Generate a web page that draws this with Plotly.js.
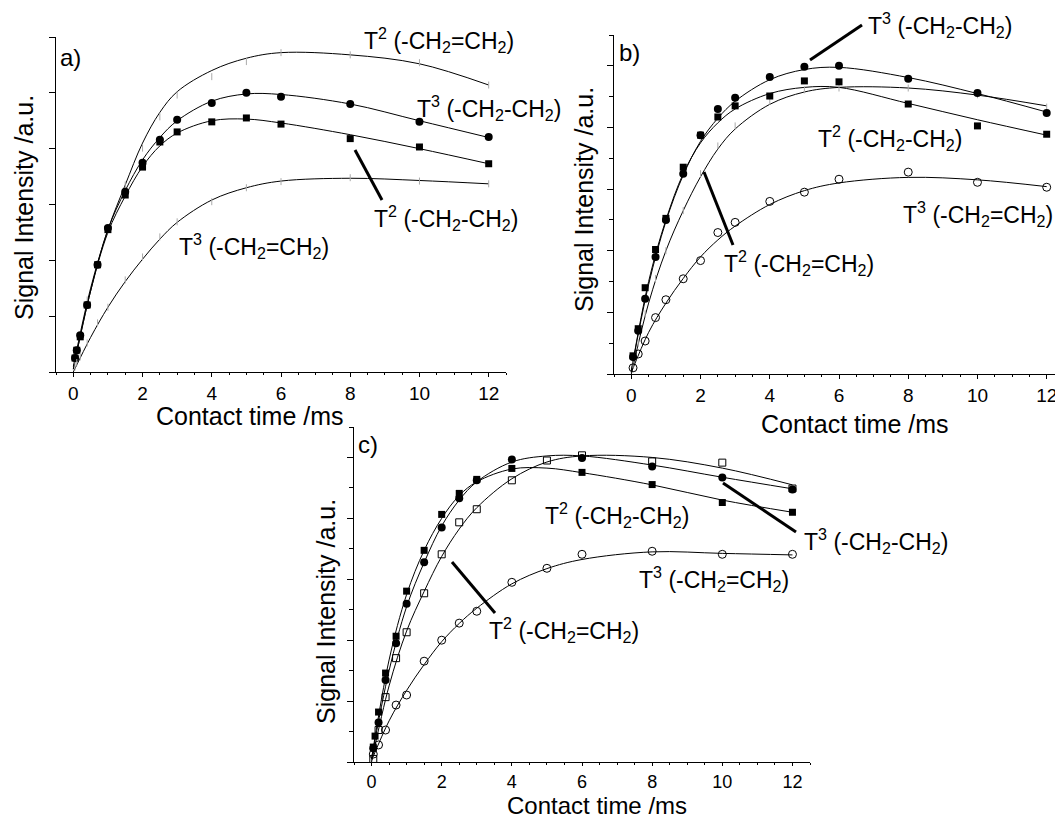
<!DOCTYPE html>
<html>
<head>
<meta charset="utf-8">
<script src="https://cdn.plot.ly/plotly-3.0.1.min.js"></script>
<style>
html,body{margin:0;padding:0;overflow:hidden;background:#fff;}
#chart{width:1080px;height:819px;}
</style>
</head>
<body>
<div id="chart"></div>
<script>
// ---------- MEASURED POINTS (contact time in ms, signal intensity in arbitrary units) ----------
// Panel a
const tA = [0.05, 0.1, 0.2, 0.4, 0.7, 1, 1.5, 2, 2.5, 3, 4, 5, 6, 8, 10, 12];
const a_T2_ethene = [0.21, 0.34, 0.66, 1.29, 1.92, 2.54, 3.35, 4.01, 4.57, 4.96, 5.29, 5.56, 5.72, 5.68, 5.54, 5.14];
const a_T3_ethane = [0.25, 0.39, 0.66, 1.2, 1.92, 2.58, 3.23, 3.75, 4.16, 4.52, 4.82, 5.0, 4.93, 4.80, 4.48, 4.21];
const a_T2_ethane = [0.25, 0.39, 0.63, 1.2, 1.92, 2.55, 3.17, 3.67, 4.12, 4.30, 4.48, 4.55, 4.44, 4.18, 4.03, 3.73];
const a_T3_ethene = [0.09, 0.17, 0.27, 0.52, 0.88, 1.16, 1.65, 2.06, 2.42, 2.69, 3.05, 3.30, 3.41, 3.48, 3.42, 3.37];
// Panel b
const tB = [0.05, 0.2, 0.4, 0.7, 1, 1.5, 2, 2.5, 3, 4, 5, 6, 8, 10, 12];
const b_T3_ethane = [0.55, 1.4, 2.44, 3.8, 5.0, 6.5, 7.75, 8.6, 8.96, 9.64, 9.97, 10.0, 9.58, 9.12, 8.47];
const b_T2_ethane = [0.59, 1.47, 2.8, 4.04, 5.05, 6.71, 7.75, 8.34, 8.7, 9.02, 9.51, 9.48, 8.76, 8.05, 7.78];
const b_T2_ethene = [0.3, 1.0, 1.95, 3.1, 4.0, 5.3, 6.5, 7.4, 8.05, 8.85, 9.22, 9.28, 9.28, 9.06, 8.66];
const b_T3_ethene = [0.2, 0.65, 1.07, 1.83, 2.41, 3.09, 3.68, 4.59, 4.92, 5.6, 5.9, 6.32, 6.55, 6.22, 6.06];
// Panel c
const tC_T2_ethane = [0.05, 0.1, 0.2, 0.4, 0.7, 1, 1.5, 2, 2.5, 3, 4, 6, 8, 10, 12];
const c_T2_ethane = [0.49, 0.85, 1.64, 2.92, 4.13, 5.61, 6.95, 8.13, 8.82, 9.28, 9.64, 9.51, 9.11, 8.52, 8.2];
const tC_T3_ethane = [0.05, 0.2, 0.4, 0.7, 1, 1.5, 2, 2.5, 3, 4, 6, 8, 10, 12];
const c_T3_ethane = [0.45, 1.3, 2.69, 3.9, 5.2, 6.56, 7.7, 8.66, 9.25, 9.93, 9.98, 9.7, 9.34, 8.95];
const tC_ethene = [0.05, 0.2, 0.4, 0.7, 1, 1.5, 2, 2.5, 3, 4, 5, 6, 8, 10, 12];
const c_T2_ethene = [0.1, 1.05, 2.13, 3.41, 4.26, 5.54, 6.82, 7.87, 8.3, 9.25, 9.9, 10.07, 9.87, 9.83, 8.98];
const c_T3_ethene = [0.26, 0.56, 1.05, 1.87, 2.2, 3.31, 4.0, 4.56, 4.95, 5.9, 6.36, 6.82, 6.92, 6.82, 6.82];

// ---------- FITTED CURVES (at these contact times) ----------
const tFit = [0, 0.5, 1, 1.5, 2, 2.5, 3, 4, 5, 6, 8, 10, 12];
const fa_T2_ethene = [0.1, 1.5, 2.55, 3.35, 4.1, 4.65, 5.02, 5.4, 5.62, 5.72, 5.68, 5.52, 5.14];
const fa_T3_ethane = [0.05, 1.45, 2.55, 3.25, 3.8, 4.2, 4.5, 4.85, 4.98, 4.97, 4.8, 4.5, 4.2];
const fa_T2_ethane = [0.05, 1.45, 2.5, 3.15, 3.68, 4.05, 4.28, 4.5, 4.53, 4.46, 4.25, 4.0, 3.73];
const fa_T3_ethene = [0.0, 0.62, 1.16, 1.62, 2.02, 2.38, 2.68, 3.08, 3.3, 3.42, 3.47, 3.43, 3.37];
const fb_T3_ethane = [0.1, 2.9, 4.95, 6.45, 7.55, 8.3, 8.85, 9.55, 9.88, 9.95, 9.62, 9.1, 8.5];
const fb_T2_ethane = [0.1, 3.0, 5.0, 6.5, 7.5, 8.15, 8.6, 9.1, 9.3, 9.3, 8.78, 8.25, 7.75];
const fb_T2_ethene = [0.0, 2.3, 4.0, 5.3, 6.4, 7.3, 7.95, 8.75, 9.15, 9.3, 9.28, 9.05, 8.7];
const fb_T3_ethene = [0.05, 1.35, 2.3, 3.1, 3.8, 4.35, 4.8, 5.5, 5.95, 6.2, 6.38, 6.3, 6.08];
const fc_T2_ethane = [0.1, 3.35, 5.5, 6.95, 8.0, 8.75, 9.2, 9.62, 9.65, 9.5, 9.1, 8.6, 8.2];
const fc_T3_ethane = [0.1, 3.0, 5.1, 6.55, 7.75, 8.6, 9.2, 9.85, 10.05, 10.05, 9.75, 9.35, 8.97];
const fc_T2_ethene = [0.0, 2.5, 4.3, 5.6, 6.75, 7.65, 8.35, 9.3, 9.85, 10.05, 10.0, 9.65, 9.1];
const fc_T3_ethene = [0.05, 1.35, 2.35, 3.2, 3.95, 4.55, 5.05, 5.85, 6.35, 6.65, 6.9, 6.85, 6.8];

const xTickVals = [0, 2, 4, 6, 8, 10, 12];
const xTickText = ['0', '2', '4', '6', '8', '10', '12'];
const xTitle = 'Contact time /ms';
const yTitle = 'Signal Intensity /a.u.';
const panelLabels = ['a)', 'b)', 'c)'];
const lbl = {
  T2ene: 'T<sup>2</sup> (-CH<sub>2</sub>=CH<sub>2</sub>)',
  T3ene: 'T<sup>3</sup> (-CH<sub>2</sub>=CH<sub>2</sub>)',
  T2ane: 'T<sup>2</sup> (-CH<sub>2</sub>-CH<sub>2</sub>)',
  T3ane: 'T<sup>3</sup> (-CH<sub>2</sub>-CH<sub>2</sub>)'
};

// ---------- LAYOUT HELPERS ----------
const W = 1080, H = 819;
const FONT = 'Liberation Sans, Arial, Helvetica, sans-serif';
const px = v => v / W;
const py = v => 1 - v / H;

const mk = {
  fc: {symbol: 'circle', size: 8, color: '#000'},
  fs: {symbol: 'square', size: 7, color: '#000'},
  oc: {symbol: 'circle-open', size: 8, color: '#000', line: {width: 1, color: '#000'}},
  os: {symbol: 'square-open', size: 7, color: '#000', line: {width: 1, color: '#000'}},
  tk: {symbol: 'line-ns-open', size: 5, color: '#aaa', line: {width: 1, color: '#aaa'}}
};

function pts(x, y, marker, xa, ya, name) {
  return {x: x, y: y, xaxis: xa, yaxis: ya, name: name, type: 'scatter', mode: 'markers',
          marker: marker, showlegend: false, cliponaxis: false, hoverinfo: 'x+y'};
}
function fit(x, y, xa, ya, name) {
  return {x: x, y: y, xaxis: xa, yaxis: ya, name: name + ' fit', type: 'scatter', mode: 'lines',
          line: {color: '#000', width: 1, shape: 'spline', smoothing: 1},
          showlegend: false, cliponaxis: false, hoverinfo: 'skip'};
}

const data = [
  fit(tFit, fa_T2_ethene, 'x', 'y', 'a T2 ethene'),
  fit(tFit, fa_T3_ethane, 'x', 'y', 'a T3 ethane'),
  fit(tFit, fa_T2_ethane, 'x', 'y', 'a T2 ethane'),
  fit(tFit, fa_T3_ethene, 'x', 'y', 'a T3 ethene'),
  pts(tA, a_T2_ethene, mk.tk, 'x', 'y', 'T2 (-CH2=CH2)'),
  pts(tA, a_T3_ethane, mk.fc, 'x', 'y', 'T3 (-CH2-CH2)'),
  pts(tA, a_T2_ethane, mk.fs, 'x', 'y', 'T2 (-CH2-CH2)'),
  pts(tA, a_T3_ethene, mk.tk, 'x', 'y', 'T3 (-CH2=CH2)'),

  fit(tFit, fb_T2_ethene, 'x2', 'y2', 'b T2 ethene'),
  fit(tFit, fb_T3_ethene, 'x2', 'y2', 'b T3 ethene'),
  fit(tFit, fb_T2_ethane, 'x2', 'y2', 'b T2 ethane'),
  fit(tFit, fb_T3_ethane, 'x2', 'y2', 'b T3 ethane'),
  pts(tB, b_T2_ethene, mk.tk, 'x2', 'y2', 'T2 (-CH2=CH2)'),
  pts(tB, b_T3_ethene, mk.oc, 'x2', 'y2', 'T3 (-CH2=CH2)'),
  pts(tB, b_T2_ethane, mk.fs, 'x2', 'y2', 'T2 (-CH2-CH2)'),
  pts(tB, b_T3_ethane, mk.fc, 'x2', 'y2', 'T3 (-CH2-CH2)'),

  fit(tFit, fc_T3_ethene, 'x3', 'y3', 'c T3 ethene'),
  fit(tFit, fc_T2_ethene, 'x3', 'y3', 'c T2 ethene'),
  fit(tFit, fc_T2_ethane, 'x3', 'y3', 'c T2 ethane'),
  fit(tFit, fc_T3_ethane, 'x3', 'y3', 'c T3 ethane'),
  pts(tC_ethene, c_T3_ethene, mk.oc, 'x3', 'y3', 'T3 (-CH2=CH2)'),
  pts(tC_ethene, c_T2_ethene, mk.os, 'x3', 'y3', 'T2 (-CH2=CH2)'),
  pts(tC_T2_ethane, c_T2_ethane, mk.fs, 'x3', 'y3', 'T2 (-CH2-CH2)'),
  pts(tC_T3_ethane, c_T3_ethane, mk.fc, 'x3', 'y3', 'T3 (-CH2-CH2)')
];

function xax(d, anchor, tlen, tsize) {
  return {
    domain: [px(d[0]), px(d[1])], anchor: anchor, range: [-0.5, 12.5],
    tickmode: 'array', tickvals: xTickVals, ticktext: xTickText,
    ticks: 'outside', ticklen: tlen, tickwidth: 1, tickcolor: '#000',
    minor: {dtick: 0.5, tick0: 0, ticks: 'outside', ticklen: 2, tickwidth: 1, tickcolor: '#000'},
    showline: true, linecolor: '#000', linewidth: 1, showgrid: false, zeroline: false,
    tickfont: {family: FONT, size: tsize, color: '#000'}, fixedrange: true
  };
}
function yax(d, anchor, top, dt, minorDt) {
  const o = {
    domain: [py(d[1]), py(d[0])], anchor: anchor, range: [0, top],
    tick0: 0, dtick: dt, ticks: 'outside', ticklen: 6, tickwidth: 1, tickcolor: '#000',
    showticklabels: false, showline: true, linecolor: '#000', linewidth: 1,
    showgrid: false, zeroline: false, fixedrange: true
  };
  if (minorDt) o.minor = {dtick: minorDt, ticks: 'outside', ticklen: 4, tickwidth: 1, tickcolor: '#000'};
  return o;
}

function ann(text, x, y, size, extra) {
  return Object.assign({
    text: text, xref: 'paper', yref: 'paper', x: px(x), y: py(y),
    xanchor: 'left', yanchor: 'middle', showarrow: false,
    font: {family: FONT, size: size, color: '#000'}
  }, extra || {});
}
const LS = 23, TS = 25;
const annotations = [
  // panel labels
  ann(panelLabels[0], 58, 58, 24),
  ann(panelLabels[1], 617, 52, 24),
  ann(panelLabels[2], 356, 445, 24),
  // axis titles
  ann(xTitle, 250, 416, TS, {xanchor: 'center'}),
  ann(xTitle, 855, 424, TS, {xanchor: 'center'}),
  ann(xTitle, 597, 805, 24, {xanchor: 'center'}),
  ann(yTitle, 24, 208, TS, {xanchor: 'center', textangle: -90}),
  ann(yTitle, 584, 200, TS, {xanchor: 'center', textangle: -90}),
  ann(yTitle, 326, 612, TS, {xanchor: 'center', textangle: -90}),
  // series labels panel a
  ann(lbl.T2ene, 362, 40, LS),
  ann(lbl.T3ane, 415, 108, LS),
  ann(lbl.T2ane, 372, 218, LS),
  ann(lbl.T3ene, 177, 246, LS),
  // panel b
  ann(lbl.T3ane, 866, 25, LS),
  ann(lbl.T2ane, 816, 138, LS),
  ann(lbl.T3ene, 901, 214, LS),
  ann(lbl.T2ene, 722, 263, LS),
  // panel c
  ann(lbl.T2ane, 543, 515, LS),
  ann(lbl.T3ane, 802, 541, LS),
  ann(lbl.T3ene, 637, 579, LS),
  ann(lbl.T2ene, 487, 630, LS)
];

function seg(x0, y0, x1, y1) {
  return {type: 'line', xref: 'paper', yref: 'paper', x0: px(x0), y0: py(y0), x1: px(x1), y1: py(y1),
          line: {color: '#000', width: 3}};
}
const shapes = [
  seg(355, 150, 382, 200),
  seg(810, 60, 862, 25),
  seg(704, 172, 733, 245),
  seg(723, 483, 796, 532),
  seg(452, 562, 495, 613)
];

const layout = {
  width: W, height: H,
  margin: {l: 0, r: 0, t: 0, b: 0, pad: 0},
  paper_bgcolor: '#fff', plot_bgcolor: 'rgba(0,0,0,0)',
  font: {family: FONT, color: '#000'},
  showlegend: false,
  xaxis: xax([56, 506], 'y', 4, 19),
  yaxis: yax([37, 372], 'x', 6, 1, null),
  xaxis2: xax([614, 1064], 'y2', 4, 19),
  yaxis2: yax([35, 374], 'x2', 11, 2, 1),
  xaxis3: xax([354, 810], 'y3', 3, 18),
  yaxis3: yax([427, 762], 'x3', 11, 2, 1),
  annotations: annotations,
  shapes: shapes
};

Plotly.newPlot('chart', data, layout, {displayModeBar: false, staticPlot: true});
</script>
</body>
</html>
